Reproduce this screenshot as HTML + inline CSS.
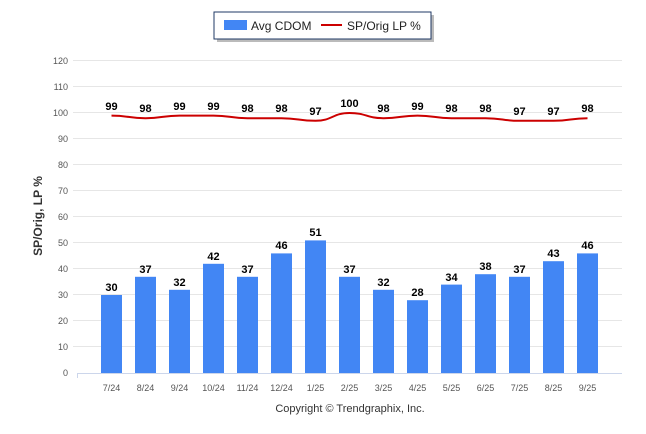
<!DOCTYPE html>
<html><head><meta charset="utf-8"><style>body{margin:0;background:#fff}svg{display:block}</style></head><body>
<svg width="646" height="434" xmlns="http://www.w3.org/2000/svg" font-family="Liberation Sans, sans-serif">
<rect x="217" y="15" width="217" height="27" fill="#bbb"/>
<rect x="214" y="12" width="217" height="27" fill="#fff" stroke="#1f3864" stroke-width="1"/>
<rect x="224" y="20" width="23" height="10" fill="#4286f4"/>
<text x="251" y="30" font-size="12" fill="#222">Avg CDOM</text>
<line x1="321" y1="25" x2="342" y2="25" stroke="#cc0000" stroke-width="2"/>
<text x="347" y="30" font-size="12" fill="#222">SP/Orig LP %</text>
<g stroke="#e6e6e6" stroke-width="1">
<line x1="73" x2="622" y1="60.5" y2="60.5"/><line x1="73" x2="622" y1="86.5" y2="86.5"/><line x1="73" x2="622" y1="112.5" y2="112.5"/><line x1="73" x2="622" y1="138.5" y2="138.5"/><line x1="73" x2="622" y1="164.5" y2="164.5"/><line x1="73" x2="622" y1="190.5" y2="190.5"/><line x1="73" x2="622" y1="216.5" y2="216.5"/><line x1="73" x2="622" y1="242.5" y2="242.5"/><line x1="73" x2="622" y1="268.5" y2="268.5"/><line x1="73" x2="622" y1="294.5" y2="294.5"/><line x1="73" x2="622" y1="320.5" y2="320.5"/><line x1="73" x2="622" y1="346.5" y2="346.5"/>
</g>
<line x1="77" x2="622" y1="373.5" y2="373.5" stroke="#ccd6eb"/>
<line x1="77.5" x2="77.5" y1="373" y2="378" stroke="#ccd6eb"/>
<g font-size="9" fill="#555" text-anchor="end">
<text x="68" y="64">120</text><text x="68" y="90">110</text><text x="68" y="116">100</text><text x="68" y="142">90</text><text x="68" y="168">80</text><text x="68" y="194">70</text><text x="68" y="220">60</text><text x="68" y="246">50</text><text x="68" y="272">40</text><text x="68" y="298">30</text><text x="68" y="324">20</text><text x="68" y="350">10</text><text x="68" y="376">0</text>
</g>
<text transform="translate(42,216) rotate(-90)" font-size="12" font-weight="bold" fill="#333" text-anchor="middle">SP/Orig, LP %</text>
<g fill="#4286f4">
<rect x="101" y="295" width="21" height="78"/>
<rect x="135" y="276.8" width="21" height="96.2"/>
<rect x="169" y="289.8" width="21" height="83.2"/>
<rect x="203" y="263.8" width="21" height="109.2"/>
<rect x="237" y="276.8" width="21" height="96.2"/>
<rect x="271" y="253.4" width="21" height="119.6"/>
<rect x="305" y="240.4" width="21" height="132.6"/>
<rect x="339" y="276.8" width="21" height="96.2"/>
<rect x="373" y="289.8" width="21" height="83.2"/>
<rect x="407" y="300.2" width="21" height="72.8"/>
<rect x="441" y="284.6" width="21" height="88.4"/>
<rect x="475" y="274.2" width="21" height="98.8"/>
<rect x="509" y="276.8" width="21" height="96.2"/>
<rect x="543" y="261.2" width="21" height="111.8"/>
<rect x="577" y="253.4" width="21" height="119.6"/>
</g>
<g font-size="11" font-weight="bold" text-anchor="middle" fill="#000">
<text x="111.5" y="291">30</text><text x="145.5" y="273">37</text><text x="179.5" y="286">32</text><text x="213.5" y="260">42</text><text x="247.5" y="273">37</text><text x="281.5" y="249">46</text><text x="315.5" y="236">51</text><text x="349.5" y="273">37</text><text x="383.5" y="286">32</text><text x="417.5" y="296">28</text><text x="451.5" y="281">34</text><text x="485.5" y="270">38</text><text x="519.5" y="273">37</text><text x="553.5" y="257">43</text><text x="587.5" y="249">46</text>
<text x="111.5" y="110">99</text><text x="145.5" y="112">98</text><text x="179.5" y="110">99</text><text x="213.5" y="110">99</text><text x="247.5" y="112">98</text><text x="281.5" y="112">98</text><text x="315.5" y="115">97</text><text x="349.5" y="107">100</text><text x="383.5" y="112">98</text><text x="417.5" y="110">99</text><text x="451.5" y="112">98</text><text x="485.5" y="112">98</text><text x="519.5" y="115">97</text><text x="553.5" y="115">97</text><text x="587.5" y="112">98</text>
</g>
<path d="M111.5 115.6 C128.5 115.6 128.5 118.2 145.5 118.2 C162.5 118.2 162.5 115.6 179.5 115.6 C196.5 115.6 196.5 115.6 213.5 115.6 C230.5 115.6 230.5 118.2 247.5 118.2 C264.5 118.2 264.5 118.2 281.5 118.2 C298.5 118.2 298.5 120.8 315.5 120.8 C332.5 120.8 332.5 113 349.5 113 C366.5 113 366.5 118.2 383.5 118.2 C400.5 118.2 400.5 115.6 417.5 115.6 C434.5 115.6 434.5 118.2 451.5 118.2 C468.5 118.2 468.5 118.2 485.5 118.2 C502.5 118.2 502.5 120.8 519.5 120.8 C536.5 120.8 536.5 120.8 553.5 120.8 C570.5 120.8 570.5 118.2 587.5 118.2" fill="none" stroke="#cc0000" stroke-width="2"/>
<g font-size="9" text-anchor="middle" fill="#555">
<text x="111.5" y="391">7/24</text><text x="145.5" y="391">8/24</text><text x="179.5" y="391">9/24</text><text x="213.5" y="391">10/24</text><text x="247.5" y="391">11/24</text><text x="281.5" y="391">12/24</text><text x="315.5" y="391">1/25</text><text x="349.5" y="391">2/25</text><text x="383.5" y="391">3/25</text><text x="417.5" y="391">4/25</text><text x="451.5" y="391">5/25</text><text x="485.5" y="391">6/25</text><text x="519.5" y="391">7/25</text><text x="553.5" y="391">8/25</text><text x="587.5" y="391">9/25</text>
</g>
<text x="350" y="412" font-size="11" fill="#333" text-anchor="middle">Copyright © Trendgraphix, Inc.</text>
</svg>
</body></html>
